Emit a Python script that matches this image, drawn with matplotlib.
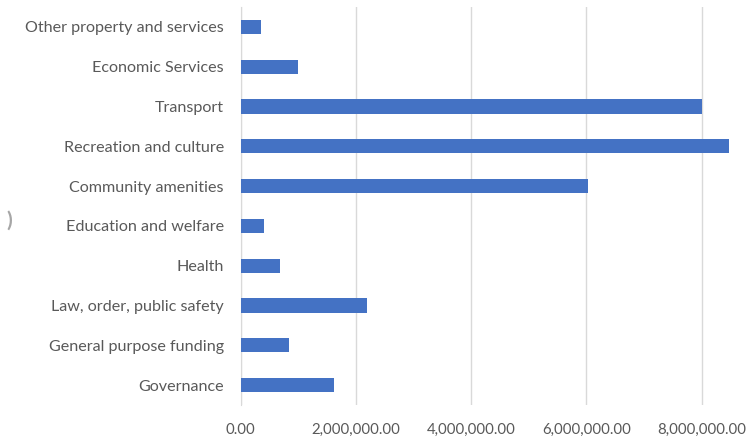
import matplotlib.pyplot as plt
from matplotlib.ticker import FuncFormatter

plt.rcParams['font.family'] = ['Lato', 'DejaVu Sans']

# categories, bottom to top
categories = ['Governance', 'General purpose funding', 'Law, order, public safety',
              'Health', 'Education and welfare', 'Community amenities',
              'Recreation and culture', 'Transport', 'Economic Services',
              'Other property and services']
values = [1620000, 840000, 2190000, 685000, 400000, 6030000,
          8480000, 8005000, 990000, 350000]
ticks = [0, 2000000, 4000000, 6000000, 8000000]

fig = plt.figure(figsize=(7.51, 4.42), dpi=100)
# plot area: x=0 at 240.5px, 2M per 115.3px, y from 7 to 405 px
ax = fig.add_axes([240.5 / 751, (442 - 405) / 442, 4.5 * 115.3 / 751, 398 / 442])

ax.barh(range(len(categories)), values, height=0.36, color='#4472C4', zorder=3)
ax.set_xlim(0, 9000000)
ax.set_ylim(-0.5, len(categories) - 0.5)

ax.set_yticks(range(len(categories)))
ax.set_yticklabels(categories)
ax.set_xticks(ticks)
ax.xaxis.set_major_formatter(FuncFormatter(lambda v, p: '{:,.2f}'.format(v)))

ax.grid(axis='x', color='#d9d9d9', linewidth=1, zorder=0)
for s in ['top', 'right', 'bottom']:
    ax.spines[s].set_visible(False)
ax.spines['left'].set_color('#d9d9d9')
ax.tick_params(axis='both', length=0, colors='#595959')
ax.tick_params(axis='y', pad=12, labelsize=11.6)
ax.tick_params(axis='x', pad=13, labelsize=10.8)

fig.text(0.008, 0.5, ')', color='#a6a6a6', fontsize=15, fontweight='bold', va='center')

plt.savefig('out.png', dpi=100)
